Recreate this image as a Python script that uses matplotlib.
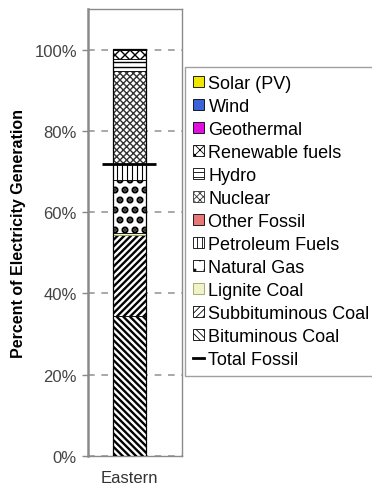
import matplotlib
matplotlib.use("Agg")
import matplotlib.pyplot as plt
from matplotlib.lines import Line2D

plt.rcParams['font.family'] = ['Liberation Sans', 'DejaVu Sans']

# Generation mix for the Eastern interconnect, percent of total, stacked bottom to top
region = "Eastern"
sources = ["Bituminous Coal", "Subbituminous Coal", "Lignite Coal", "Natural Gas",
           "Petroleum Fuels", "Other Fossil", "Nuclear", "Hydro",
           "Renewable fuels", "Geothermal", "Wind", "Solar (PV)"]
shares = [34.4, 19.9, 0.5, 13.1, 3.9, 0.1, 22.8, 3.0, 2.1, 0.05, 0.2, 0.05]
fossil_sources = ["Bituminous Coal", "Subbituminous Coal", "Lignite Coal",
                  "Natural Gas", "Petroleum Fuels", "Other Fossil"]
ytick_values = [0, 20, 40, 60, 80, 100]
ytick_labels = ["0%", "20%", "40%", "60%", "80%", "100%"]

# The figure is rendered at 60 dpi so the hatch tile is 60 px; point sizes are
# scaled so they look as they would at 100 dpi.
DPI = 60
S = 100 / DPI


def pt(v):
    return v * S


# fill colour, hatch, hatch colour, hatch line width
styles = {
    "Bituminous Coal":    ("white", "\\\\\\", "black", 1.7),
    "Subbituminous Coal": ("white", "///", "black", 1.7),
    "Lignite Coal":       ("#f2f2c8", None, "#9aa060", 0.8),
    "Natural Gas":        ("white", ".", "black", 3.6),
    "Petroleum Fuels":    ("white", "||", "black", 0.8),
    "Other Fossil":       ("#e87878", None, "black", 0.8),
    "Nuclear":            ("white", "xxx", "#333333", 1.0),
    "Hydro":              ("white", "--", "black", 1.0),
    "Renewable fuels":    ("white", "xx", "black", 1.0),
    "Geothermal":         ("#e010e0", None, "black", 0.8),
    "Wind":               ("#3a64d8", None, "black", 0.8),
    "Solar (PV)":         ("#f2e600", None, "black", 0.8),
}

fig = plt.figure(figsize=(372 / DPI, 494 / DPI), dpi=DPI)
ax = fig.add_axes([88 / 372, 37 / 494, 94 / 372, 447 / 494])

x = 0.0
width = 0.44
bottom = 0.0
handles = {}
for name, val in zip(sources, shares):
    face, hatch, hcol, hlw = styles[name]
    bars = ax.bar(x, val, width, bottom=bottom, color=face, hatch=hatch,
                  edgecolor=hcol, linewidth=pt(0.6), zorder=3, label=name)
    for p in bars.patches:
        if hasattr(p, "set_hatch_linewidth"):
            p.set_hatch_linewidth(pt(hlw))
    handles[name] = bars
    bottom += val

# outline of the whole column
ax.bar(x, sum(shares), width, fill=False, edgecolor="black", linewidth=pt(0.9), zorder=4)

total_fossil = sum(v for n, v in zip(sources, shares) if n in fossil_sources)
ax.hlines(total_fossil, x - 0.36, x + 0.36, color="black", linewidth=pt(2.0), zorder=5)

ax.set_xlim(-0.55, 0.7)
ax.set_ylim(0, 110)
ax.set_xticks([x])
ax.set_xticklabels([region], fontsize=pt(12), color="#333333")
ax.tick_params(axis="x", length=0, pad=pt(10))
ax.set_yticks(ytick_values)
ax.set_yticklabels(ytick_labels, fontsize=pt(12), color="#444444")
ax.tick_params(axis="y", length=pt(4), width=pt(1), color="#888888", pad=pt(4))
ax.set_ylabel("Percent of Electricity Generation", fontsize=pt(11.5),
              fontweight="bold", labelpad=pt(6))
ax.yaxis.grid(True, linestyle=(0, (4, 4)), color="#999999", linewidth=pt(1.2), zorder=0)
for side, sp in ax.spines.items():
    sp.set_color("#8a8a8a")
    sp.set_linewidth(pt(1.0))
ax.spines["left"].set_linewidth(pt(1.8))

order = list(reversed(sources))
leg_handles = [handles[n] for n in order]
leg_handles.append(Line2D([], [], color="black", linewidth=pt(2)))
leg_labels = order + ["Total Fossil"]
leg = fig.legend(leg_handles, leg_labels, loc="upper left",
                 bbox_to_anchor=(185 / 372, 1 - 68 / 494), borderaxespad=0,
                 fontsize=pt(13), handlelength=0.6, handleheight=0.6,
                 handletextpad=0.25, labelspacing=0.33, borderpad=0.45,
                 frameon=True, fancybox=False, edgecolor="#888888")
leg.get_frame().set_linewidth(pt(1.0))

fig.savefig("out.png", dpi=DPI)
